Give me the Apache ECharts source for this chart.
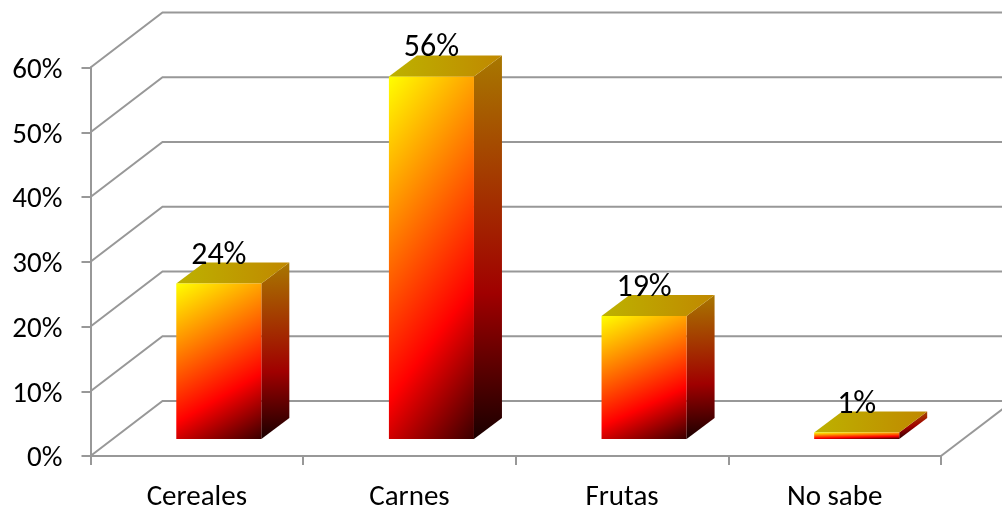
<!DOCTYPE html>
<html>
<head>
<meta charset="utf-8">
<style>html,body{margin:0;padding:0;background:#fff}#chart{width:1002px;height:508px}</style>
<script src="https://cdn.jsdelivr.net/npm/echarts@6/dist/echarts.min.js"></script>
</head>
<body>
<div id="chart"></div>
<script>
const categories = ['Cereales', 'Carnes', 'Frutas', 'No sabe'];
const percentages = [24, 56, 19, 1];
const gridValues = [0, 10, 20, 30, 40, 50, 60];

// Depth of the plot box and of the columns, as a screen shear in pixels.
const WALL_DX = 72, WALL_DY = -55;
const BAR_DX = 28, BAR_DY = -21;
const GRID_COLOR = '#989898';
const FONT = 'Carlito, Lato, sans-serif';

const grad = (x2, y2, stops) => ({
  type: 'linear', x: 0, y: 0, x2, y2,
  colorStops: stops.map(([offset, color]) => ({ offset, color }))
});

// The front face's colour bands tilt more steeply the taller the column is.
function frontFill(w, h) {
  const tilt = 0.32;
  const s = tilt * h / w;
  const len = (1 + tilt) * h / (s * s + 1);
  return grad(s * len / w, len / h, [[0, '#ffff00'], [0.68, '#ff0000'], [1, '#3a0000']]);
}
const sideFill = grad(0.25, 1, [[0, '#a87800'], [0.62, '#a00000'], [1, '#1a0000']]);
const topFill = grad(1, 0.3, [[0, '#bdb200'], [1, '#c08800']]);

// Walls and floor behind the columns: each gridline runs back from the
// value axis and then across the rear wall.
function renderWall(params, api) {
  const v = api.value(0);
  const y = api.coord([0, v])[1];
  const x0 = params.coordSys.x;
  const xEnd = x0 + params.coordSys.width;
  const children = [{
    type: 'polyline',
    shape: { points: [[x0, y], [x0 + WALL_DX, y + WALL_DY], [xEnd + WALL_DX, y + WALL_DY]] },
    style: { stroke: GRID_COLOR, lineWidth: 2, fill: null }
  }];
  if (v === 0) {
    children.push({
      type: 'line',
      shape: { x1: xEnd, y1: y, x2: xEnd + WALL_DX, y2: y + WALL_DY },
      style: { stroke: GRID_COLOR, lineWidth: 2 }
    });
  }
  return { type: 'group', children };
}

// One extruded column: front, right side and top faces.
function renderBar(params, api) {
  const cat = api.value(0), val = api.value(1);
  const base = api.coord([cat, 0]);
  const tip = api.coord([cat, val]);
  const w = api.size([1, 0])[0] * 0.4;
  const offX = (WALL_DX - BAR_DX) / 2, offY = (WALL_DY - BAR_DY) / 2;
  const l = base[0] - w / 2 + offX, r = l + w;
  const b = base[1] + offY, t = tip[1] + offY;
  const dx = BAR_DX, dy = BAR_DY;
  return {
    type: 'group',
    children: [
      { type: 'polygon', shape: { points: [[r, t], [r + dx, t + dy], [r + dx, b + dy], [r, b]] }, style: { fill: sideFill } },
      { type: 'polygon', shape: { points: [[l, t], [l + dx, t + dy], [r + dx, t + dy], [r, t]] }, style: { fill: topFill } },
      { type: 'rect', shape: { x: l, y: t, width: w, height: b - t }, style: { fill: frontFill(w, b - t) } }
    ]
  };
}

// Value captions sit over the top face of each column.
function renderCaption(params, api) {
  const p = api.coord([api.value(0), api.value(1)]);
  return {
    type: 'text',
    style: {
      x: p[0] + (WALL_DX - BAR_DX) / 2,
      y: p[1] - 45,
      text: api.value(1) + '%',
      fill: '#000',
      fontSize: 32,
      fontFamily: FONT,
      align: 'center',
      verticalAlign: 'middle'
    }
  };
}

const chart = echarts.init(document.getElementById('chart'));
chart.setOption({
  animation: false,
  backgroundColor: '#fff',
  textStyle: { fontFamily: FONT },
  grid: { left: 90.5, right: 61, top: 67.5, bottom: 52, outerBoundsMode: 'none' },
  xAxis: {
    type: 'category',
    data: categories,
    boundaryGap: true,
    axisLine: { show: true, lineStyle: { color: GRID_COLOR, width: 2 } },
    axisTick: { show: true, length: 9, alignWithLabel: false, lineStyle: { color: GRID_COLOR, width: 2 } },
    axisLabel: { color: '#000', fontSize: 29, margin: 27, fontFamily: FONT }
  },
  yAxis: {
    type: 'value',
    min: 0, max: 60, interval: 10,
    axisLine: { show: true, lineStyle: { color: GRID_COLOR, width: 2 } },
    axisTick: { show: true, length: 9, lineStyle: { color: GRID_COLOR, width: 2 } },
    splitLine: { show: false },
    axisLabel: { color: '#000', fontSize: 29, margin: 28, fontFamily: FONT, verticalAlign: 'top', lineHeight: 6, formatter: '{value}%' }
  },
  series: [
    { type: 'custom', clip: false, silent: true, z: 1, renderItem: renderWall, encode: { y: 0 }, data: gridValues.map(v => [v]) },
    { type: 'custom', clip: false, z: 3, renderItem: renderBar, encode: { x: 0, y: 1 }, data: percentages.map((v, i) => [i, v]) },
    { type: 'custom', clip: false, z: 4, renderItem: renderCaption, encode: { x: 0, y: 1 }, data: percentages.map((v, i) => [i, v]) }
  ]
});
</script>
</body>
</html>
